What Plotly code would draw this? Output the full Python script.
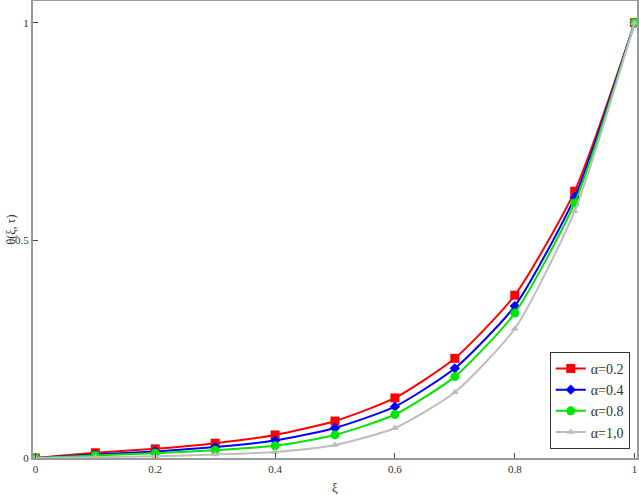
import plotly.graph_objects as go

# values
xi = [0.0, 0.1, 0.2, 0.3, 0.4, 0.5, 0.6, 0.7, 0.8, 0.9, 1.0]
theta_a02 = [0.0, 0.012, 0.021, 0.034, 0.053, 0.085, 0.138, 0.229, 0.374, 0.613, 1.0]
theta_a04 = [0.0, 0.008, 0.015, 0.025, 0.040, 0.069, 0.118, 0.206, 0.349, 0.599, 1.0]
theta_a08 = [0.0, 0.006, 0.011, 0.018, 0.028, 0.053, 0.100, 0.187, 0.333, 0.586, 1.0]
theta_a10 = [0.0, 0.002, 0.004, 0.008, 0.014, 0.030, 0.069, 0.151, 0.297, 0.567, 1.0]

SERIES = [
    ("α=0.2", theta_a02, "#FF0000", "square", 9),
    ("α=0.4", theta_a04, "#0000FF", "diamond", 8),
    ("α=0.8", theta_a08, "#00E600", "circle", 9),
    ("α=1,0", theta_a10, "#BDBDBD", "triangle-up", 7),
]

AXIS = dict(
    showline=True, linecolor="#9A9A9A", linewidth=2, mirror=True,
    showgrid=False, zeroline=False, automargin=False,
    ticks="inside", ticklen=5, tickcolor="#444",
    ticklabeloverflow="allow",
    tickfont=dict(family="Liberation Serif", size=11, color="#333"),
)

fig = go.Figure()
for name, ys, color, symbol, size in SERIES:
    fig.add_trace(go.Scatter(
        x=xi, y=ys, name=name, mode="lines+markers",
        line=dict(color=color, width=2, shape="spline", smoothing=0.6),
        marker=dict(color=color, symbol=symbol, size=size),
    ))

fig.update_layout(
    width=639, height=495,
    paper_bgcolor="white", plot_bgcolor="white",
    margin=dict(l=33, r=2, t=1, b=37),
    font=dict(family="Liberation Serif", color="#333"),
    xaxis=dict(
        **AXIS, range=[-0.004, 1.004], tickvals=[0, 0.2, 0.4, 0.6, 0.8, 1],
        ticktext=["0", "0.2", "0.4", "0.6", "0.8", "1"],
    ),
    yaxis=dict(
        **AXIS, range=[0, 1.05], tickvals=[0, 0.5, 1],
        ticktext=["0", "0.5", "1"],
    ),
    legend=dict(
        x=0.988, y=0.02, xanchor="right", yanchor="bottom",
        bgcolor="white", bordercolor="#333", borderwidth=1,
        font=dict(family="Liberation Serif", size=14, color="#333"),
        itemwidth=30, tracegroupgap=0,
    ),
    annotations=[
        dict(text="ξ", xref="paper", yref="paper", x=0.5, y=0,
             yanchor="top", yshift=-20, showarrow=False,
             font=dict(size=13, color="#333")),
        dict(text="θ(ξ, τ)", xref="paper", yref="paper", x=0, y=0.5,
             xanchor="right", xshift=-14, textangle=-90, showarrow=False,
             font=dict(size=12, color="#333")),
    ],
)

# drop the default 8px body margin so the figure fills the window
fig.write_html(
    "out.html",
    config={"displayModeBar": False},
    post_script="document.body.style.margin='0';",
)
